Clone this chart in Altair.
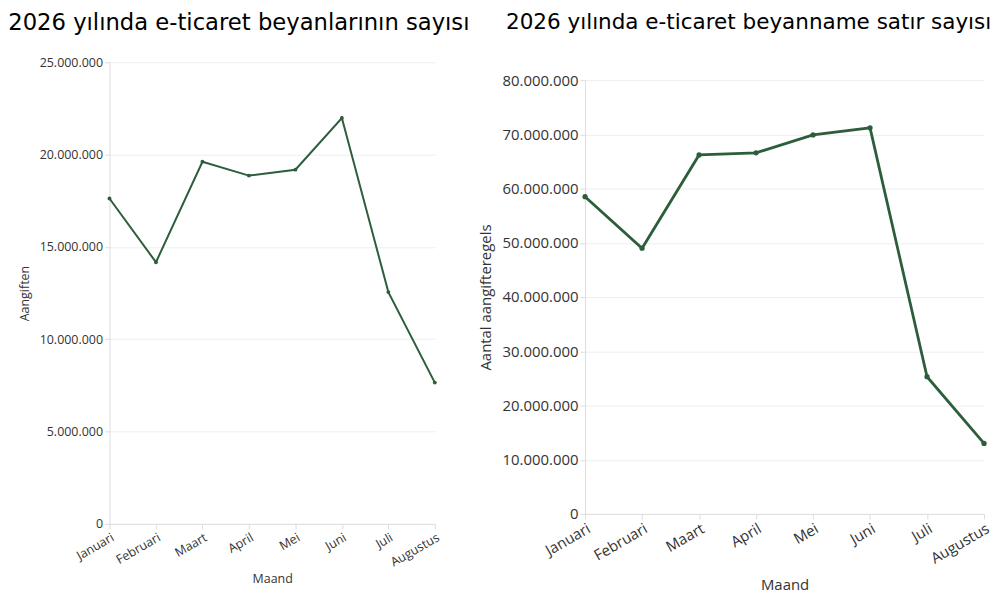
import altair as alt
import pandas as pd

months = ["Januari", "Februari", "Maart", "April", "Mei", "Juni", "Juli", "Augustus"]
aangiften = [17620000, 14170000, 19610000, 18860000, 19180000, 21980000, 12550000, 7650000]
regels = [58500000, 49000000, 66200000, 66600000, 69900000, 71200000, 25300000, 13000000]

df1 = pd.DataFrame({"Maand": months, "Aangiften": aangiften})
df2 = pd.DataFrame({"Maand": months, "Regels": regels})

GREEN = "#2d5e3c"
FONT = "Open Sans"
LBL = "replace(format(datum.value, ','), /,/g, '.')"

def panel(df, field, ytitle, width, height, top_gap, domain_max, step, title, title_size,
          lsize, tsize, ytitle_pad, xtitle_pad, title_offset, title_dx, sw, psize):
    x = alt.X("Maand:N", sort=months, title="Maand",
              scale=alt.Scale(type="point", padding=0),
              axis=alt.Axis(labelAngle=-30, labelFontSize=lsize, titleFontSize=tsize,
                            labelFont=FONT, titleFont=FONT, titleFontWeight="normal",
                            labelColor="#333", titleColor="#333", grid=False,
                            domainColor="#ddd", tickColor="#ddd", titlePadding=xtitle_pad))
    y = alt.Y(f"{field}:Q", title=ytitle,
              scale=alt.Scale(domain=[0, domain_max], nice=False, range=[height, top_gap]),
              axis=alt.Axis(values=list(range(0, domain_max + 1, step)), labelExpr=LBL,
                            labelFontSize=lsize, titleFontSize=tsize, labelFont=FONT,
                            titleFont=FONT, titleFontWeight="normal", labelColor="#333",
                            titleColor="#333", gridColor="#eee", domainColor="#ddd",
                            tickColor="#ddd", titlePadding=ytitle_pad))
    line = alt.Chart(df).mark_line(color=GREEN, strokeWidth=sw).encode(x=x, y=y)
    pts = alt.Chart(df).mark_point(color=GREEN, filled=True, opacity=1, size=psize).encode(x=x, y=y)
    return (line + pts).properties(
        width=width, height=height,
        title=alt.TitleParams(title, font="DejaVu Sans", fontSize=title_size, fontWeight="normal",
                              color="#000", anchor="start", offset=title_offset, dx=title_dx),
    )

left = panel(df1, "Aangiften", "Aangiften", 327, 464, 0, 25000000, 5000000,
             "2026 yılında e-ticaret beyanlarının sayısı", 22.8, 12.5, 12.5, 8, 4, 22, -10, 2, 15)
right = panel(df2, "Regels", "Aantal aangifteregels", 401, 454, 18, 80000000, 10000000,
              "2026 yılında e-ticaret beyanname satır sayısı", 21.6, 15, 15, 9, 12, 29, 28, 2.8, 28)

chart = alt.hconcat(left, right, spacing=7).configure_view(stroke=None).properties(
    padding={"left": 0, "top": 2, "right": 0, "bottom": 0})

chart.save("out.html", embed_options={"renderer": "svg", "actions": False})
